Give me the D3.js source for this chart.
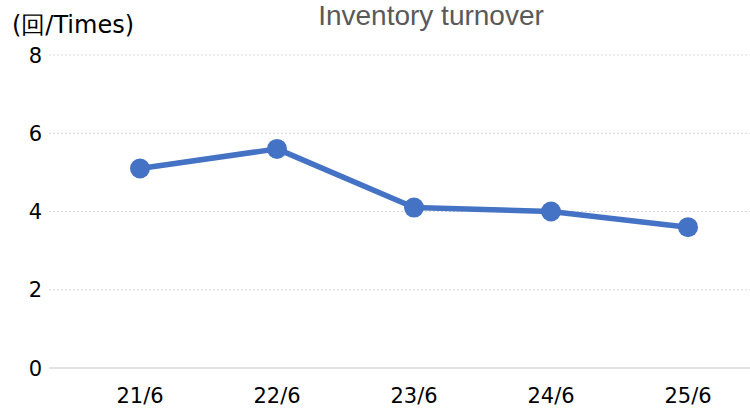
<!DOCTYPE html>
<html><head><meta charset="utf-8">
<script src="https://cdn.jsdelivr.net/npm/d3@7"></script>
<style>body{margin:0;background:#fff}svg{display:block}</style>
</head><body>
<script>
const categories = ["21/6","22/6","23/6","24/6","25/6"];
const values = [5.1, 5.6, 4.1, 4.0, 3.6];
const yTicks = [0,2,4,6,8];
const title = "Inventory turnover";
const unitLabel = "(回/Times)";

const W = 750, H = 409;
const svg = d3.select("body").append("svg").attr("width", W).attr("height", H);
const x = d3.scaleBand().domain(categories).range([71.5, 756.5]);
const y = d3.scaleLinear().domain([0, 8]).range([368, 55]);

// gridlines
svg.append("g").selectAll("line").data(yTicks.filter(d => d > 0)).join("line")
  .attr("x1", 49).attr("x2", 750)
  .attr("y1", d => y(d)).attr("y2", d => y(d))
  .attr("stroke", "#d9d9d9").attr("stroke-width", 1.2).attr("stroke-dasharray", "2,2");
svg.append("line").attr("x1", 49).attr("x2", 750).attr("y1", y(0)).attr("y2", y(0))
  .attr("stroke", "#d9d9d9").attr("stroke-width", 1.5);

// y tick labels
svg.append("g").selectAll("text").data(yTicks).join("text")
  .attr("x", 42).attr("y", d => y(d)).attr("dy", "0.36em").attr("text-anchor", "end")
  .attr("font-family", "DejaVu Sans, Verdana, sans-serif").attr("font-size", 21).attr("fill", "#000")
  .text(d => d);

// x labels
svg.append("g").selectAll("text").data(categories).join("text")
  .attr("x", d => x(d) + x.bandwidth()/2).attr("y", 403).attr("text-anchor", "middle")
  .attr("font-family", "DejaVu Sans, Verdana, sans-serif").attr("font-size", 21).attr("fill", "#000")
  .text(d => d);

// line
const line = d3.line().x((d,i) => x(categories[i]) + x.bandwidth()/2).y(d => y(d));
svg.append("path").datum(values).attr("d", line).attr("fill", "none")
  .attr("stroke", "#4472C4").attr("stroke-width", 5.5).attr("stroke-linejoin", "round");
svg.append("g").selectAll("circle").data(values).join("circle")
  .attr("cx", (d,i) => x(categories[i]) + x.bandwidth()/2).attr("cy", d => y(d)).attr("r", 10)
  .attr("fill", "#4472C4");

// title
svg.append("text").attr("x", 431).attr("y", 25).attr("text-anchor", "middle")
  .attr("font-family", "Liberation Sans, Arial, sans-serif").attr("font-size", 28).attr("fill", "#595959")
  .text(title);
svg.append("text").attr("x", 12).attr("y", 33)
  .attr("font-family", "DejaVu Sans, Verdana, sans-serif").attr("font-size", 24).attr("fill", "#000")
  .text(unitLabel);
</script>
</body></html>
